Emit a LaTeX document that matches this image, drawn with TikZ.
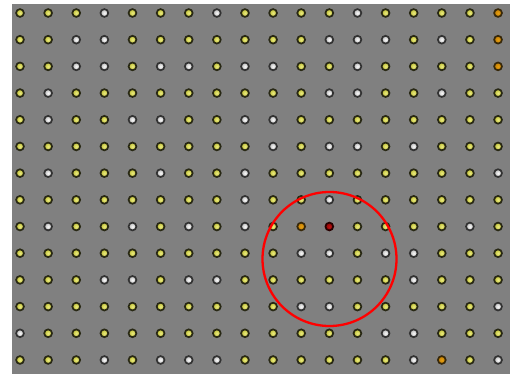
\documentclass[tikz,border=0pt]{standalone}
\definecolor{bgGray}{RGB}{128,128,128}
\definecolor{yEdge}{RGB}{40,40,20}
\definecolor{yIn}{RGB}{235,235,130}
\definecolor{yOut}{RGB}{190,190,50}
\definecolor{wEdge}{RGB}{50,50,50}
\definecolor{wIn}{RGB}{250,250,250}
\definecolor{wOut}{RGB}{185,185,185}
\definecolor{oEdge}{RGB}{55,40,10}
\definecolor{oIn}{RGB}{230,160,20}
\definecolor{oOut}{RGB}{195,125,0}
\definecolor{rEdge}{RGB}{40,0,0}
\definecolor{rIn}{RGB}{190,20,20}
\definecolor{rOut}{RGB}{140,0,0}
\definecolor{ringRed}{RGB}{255,0,0}
\begin{document}
\begin{tikzpicture}[x=1pt,y=-1pt,
  dot/.style={circle,minimum size=7.8pt,inner sep=0pt,line width=1.7pt},
  dY/.style={dot,draw=yEdge,inner color=yIn,outer color=yOut},
  dW/.style={dot,draw=wEdge,inner color=wIn,outer color=wOut},
  dO/.style={dot,draw=oEdge,inner color=oIn,outer color=oOut},
  dR/.style={dot,draw=rEdge,inner color=rIn,outer color=rOut},
  ring/.style={draw=ringRed,line width=2.3pt}]
\useasboundingbox (0,0) rectangle (510,374);
\fill[white] (0,0) rectangle (510,374);
\fill[bgGray] (12,4) rectangle (510,374);
\foreach \row [count=\r] in {
 {Y,Y,Y,W,Y,Y,Y,W,Y,Y,Y,Y,W,Y,Y,Y,Y,O},
 {Y,Y,W,W,Y,Y,Y,Y,Y,Y,Y,W,W,W,Y,W,Y,O},
 {Y,Y,W,W,Y,W,W,Y,W,W,Y,Y,W,Y,Y,Y,Y,O},
 {Y,W,Y,Y,Y,Y,Y,Y,Y,Y,Y,W,W,Y,Y,W,Y,Y},
 {Y,W,Y,Y,W,W,Y,Y,W,W,Y,Y,Y,Y,Y,Y,Y,Y},
 {Y,Y,Y,Y,Y,Y,Y,Y,Y,W,Y,W,W,Y,W,Y,Y,Y},
 {Y,W,Y,Y,Y,W,Y,Y,W,Y,Y,Y,Y,Y,Y,Y,Y,W},
 {Y,Y,Y,Y,Y,Y,Y,Y,W,Y,Y,W,Y,Y,Y,Y,Y,Y},
 {Y,W,Y,Y,W,Y,W,Y,W,Y,O,R,Y,Y,Y,Y,W,Y},
 {Y,Y,Y,Y,Y,Y,Y,Y,Y,Y,W,W,Y,W,W,Y,Y,Y},
 {Y,Y,Y,W,W,Y,W,W,Y,Y,Y,Y,Y,Y,W,Y,Y,Y},
 {Y,Y,Y,Y,Y,Y,Y,Y,Y,Y,W,W,Y,Y,Y,Y,Y,W},
 {W,Y,Y,Y,Y,Y,Y,Y,Y,Y,Y,Y,Y,W,W,Y,Y,Y},
 {Y,Y,Y,W,Y,W,W,W,Y,Y,Y,Y,Y,Y,W,O,Y,W}}
{
  \foreach \c [count=\k] in \row {
    \node[d\c] (d-\r-\k) at ({20+(\k-1)*28.12},{13+(\r-1)*26.69}) {};
  }
}
\coordinate (ctr) at (329.5,259);
\draw[ring] (ctr) circle[radius=67];
\end{tikzpicture}
\end{document}
